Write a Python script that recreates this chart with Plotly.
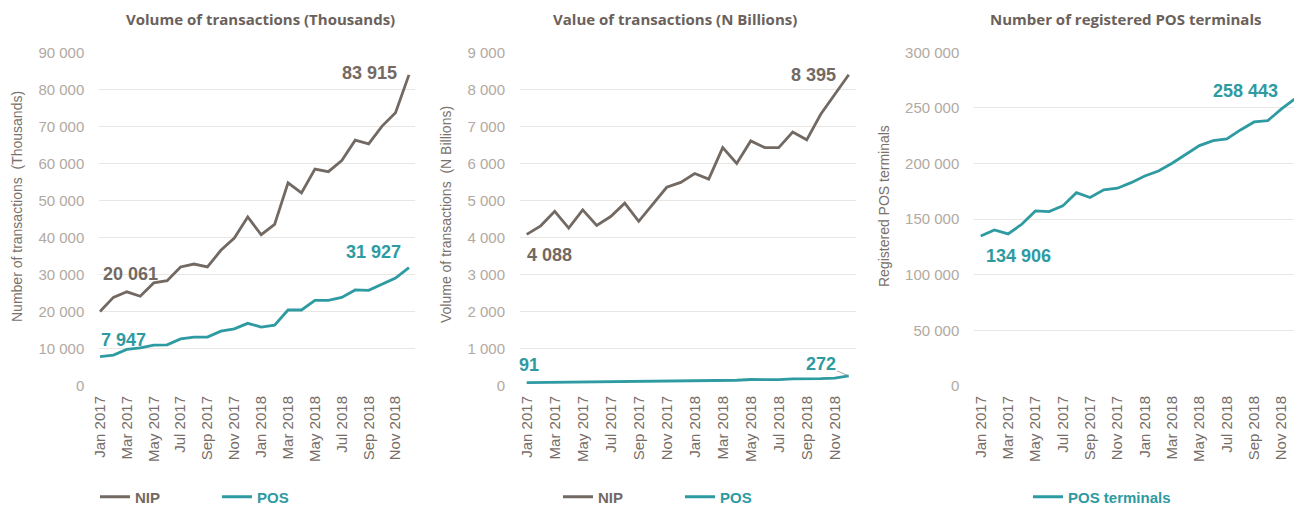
import plotly.graph_objects as go

# The page places the figure div 8px from the top-left (default body margin),
# so the figure is 8px smaller and all reference pixel positions are shifted.
OFF = 8
W, H = 1302 - OFF, 508 - OFF


def px(xr):
    return (xr - OFF) / W


def py(yr):
    return (H - (yr - OFF)) / H


months = ["Jan 2017", "Feb 2017", "Mar 2017", "Apr 2017", "May 2017", "Jun 2017",
          "Jul 2017", "Aug 2017", "Sep 2017", "Oct 2017", "Nov 2017", "Dec 2017",
          "Jan 2018", "Feb 2018", "Mar 2018", "Apr 2018", "May 2018", "Jun 2018",
          "Jul 2018", "Aug 2018", "Sep 2018", "Oct 2018", "Nov 2018", "Dec 2018"]

vol_nip = [20061, 23900, 25400, 24200, 27800, 28400, 32100, 32900, 32100, 36600, 39900, 45600,
           40800, 43600, 54800, 52100, 58500, 57800, 60800, 66300, 65300, 70100, 73700, 83915]
vol_pos = [7947, 8350, 9860, 10300, 11000, 11100, 12700, 13200, 13200, 14800, 15400, 16900,
           15900, 16400, 20500, 20500, 23100, 23100, 23900, 25900, 25800, 27500, 29100, 31927]

val_nip = [4088, 4320, 4710, 4260, 4750, 4330, 4570, 4930, 4440, 4890, 5360, 5490,
           5730, 5580, 6430, 6000, 6610, 6430, 6430, 6850, 6640, 7330, 7870, 8395]
val_pos = [91, 95, 100, 105, 103, 104, 110, 115, 116, 120, 125, 145,
           140, 142, 160, 155, 175, 165, 170, 190, 185, 200, 215, 272]

pos_terminals = [134906, 140300, 136700, 145400, 157400, 156800, 161900, 173800, 169400, 176300,
                 177800, 182800, 188800, 193300, 200300, 208400, 216100, 220600, 222100, 230200,
                 237400, 238600, 249100, 258443]

titles = ["Volume of transactions (Thousands)", "Value of transactions (N Billions)",
          "Number of registered POS terminals"]
ytitles = ["Number of transactions  (Thousands)", "Volume of transactions  (N Billions)",
           "Registered POS terminals"]

NIP_C = "#736963"
POS_C = "#2e9aa1"
GRID_C = "#e9e6e3"
YTICK_C = "#b2a9a2"
XTICK_C = "#776d67"
TITLE_C = "#6b615b"
FONT = "Liberation Sans, Arial, sans-serif"

x = list(range(len(months)))
tickvals = x[::2]
ticktext = months[::2]

# reference pixel geometry of the three plot areas
px_dom = [(99.3, 415.0), (520.0, 856.0), (974.3, 1302.0)]
xranges = [[-0.05, 23.45], [-0.48, 23.52], [-0.47, 23.5]]
yranges = [[0, 90000], [0, 9000], [0, 300000]]
ydtick = [10000, 1000, 50000]
ytop, ybot = 52.3, 386.0

fig = go.Figure()


def line(xa, ya, yvals, name, color, legend):
    fig.add_trace(go.Scatter(x=x, y=yvals, mode="lines", name=name, xaxis=xa, yaxis=ya,
                             line=dict(color=color, width=2.8), legend=legend,
                             hoverinfo="skip"))


nip_name = "<b><span style='color:%s'>NIP</span></b>" % NIP_C
pos_name = "<b><span style='color:%s'>POS</span></b>" % POS_C
line("x", "y", vol_nip, nip_name, NIP_C, "legend")
line("x", "y", vol_pos, pos_name, POS_C, "legend")
line("x2", "y2", val_nip, nip_name, NIP_C, "legend2")
line("x2", "y2", val_pos, pos_name, POS_C, "legend2")
line("x3", "y3", pos_terminals, "<b><span style='color:%s'>POS terminals</span></b>" % POS_C,
     POS_C, "legend3")

layout = dict(width=W, height=H, margin=dict(l=0, r=0, t=0, b=0, autoexpand=False),
              paper_bgcolor="white", plot_bgcolor="white",
              font=dict(family=FONT, size=15, color=XTICK_C), showlegend=True)

for i in range(3):
    s = "" if i == 0 else str(i + 1)
    l, r = px_dom[i]
    layout["xaxis" + s] = dict(domain=[px(l), min(px(r), 1.0)], range=xranges[i],
                               tickmode="array", tickvals=tickvals, ticktext=ticktext,
                               tickangle=-90, showgrid=False, zeroline=False, showline=False,
                               ticks="", ticklabelstandoff=6, automargin=False,
                               tickfont=dict(family=FONT, size=15, color=XTICK_C),
                               anchor="y" + s)
    layout["yaxis" + s] = dict(domain=[py(ybot), py(ytop)], range=yranges[i],
                               dtick=ydtick[i], tick0=0, showgrid=True, gridcolor=GRID_C,
                               gridwidth=1, zeroline=False, showline=False, ticks="",
                               tickformat=",d", ticklabelstandoff=14, automargin=False,
                               tickfont=dict(family=FONT, size=15, color=YTICK_C),
                               anchor="x" + s)

layout["separators"] = ". "

leg_common = dict(orientation="h", yanchor="middle", y=py(497), xanchor="left",
                  font=dict(family=FONT, size=15), bgcolor="rgba(0,0,0,0)", itemwidth=30)
layout["legend"] = dict(leg_common, x=px(95), entrywidth=77, entrywidthmode="pixels")
layout["legend2"] = dict(leg_common, x=px(558), entrywidth=77, entrywidthmode="pixels")
layout["legend3"] = dict(leg_common, x=px(1028))

fig.update_layout(**layout)

# panel titles
title_cx = [260, 675, 1125]
for i, t in enumerate(titles):
    fig.add_annotation(text="<b>" + t + "</b>", x=px(title_cx[i]), y=1.0,
                       xref="paper", yref="paper", showarrow=False, xanchor="center",
                       yanchor="top", borderpad=0,
                       font=dict(family="Open Sans, sans-serif", size=15, color=TITLE_C))

# y-axis titles
ytit_pos = [(17, 207), (446, 215), (884, 206)]
for i, t in enumerate(ytitles):
    cx, cy = ytit_pos[i]
    fig.add_annotation(text=t, x=px(cx), y=py(cy), xref="paper", yref="paper",
                       showarrow=False, textangle=-90, xanchor="center", yanchor="middle",
                       borderpad=0, font=dict(family=FONT, size=14, color="#7a716b"))


# data labels
def dlabel(xa, ya, idx, series, color, xanchor, xshift, yshift):
    fig.add_annotation(text="<b>%s</b>" % format(series[idx], ",").replace(",", " "),
                       x=x[idx], y=series[idx], xref=xa, yref=ya, showarrow=False,
                       xanchor=xanchor, yanchor="middle", xshift=xshift, yshift=yshift,
                       font=dict(family=FONT, size=18, color=color))


dlabel("x", "y", 23, vol_nip, NIP_C, "right", -10, 2)
dlabel("x", "y", 0, vol_nip, NIP_C, "left", 1, 38)
dlabel("x", "y", 0, vol_pos, POS_C, "left", -1, 17)
dlabel("x", "y", 23, vol_pos, POS_C, "right", -6, 16)
dlabel("x2", "y2", 23, val_nip, NIP_C, "right", -11, 0)
dlabel("x2", "y2", 0, val_nip, NIP_C, "left", -2, -21)
dlabel("x2", "y2", 0, val_pos, POS_C, "left", -10, 18)
dlabel("x3", "y3", 23, pos_terminals, POS_C, "right", -15, 8)
dlabel("x3", "y3", 0, pos_terminals, POS_C, "left", 3, -20)

# 272 label with leader line
fig.add_annotation(text="<b>%d</b>" % val_pos[23], x=x[23], y=val_pos[23], xref="x2", yref="y2",
                   showarrow=True, ax=-28, ay=-12, arrowhead=0, arrowwidth=1,
                   arrowcolor="#a8a8a8", standoff=2,
                   font=dict(family=FONT, size=18, color=POS_C))

fig.write_html("out.html")
